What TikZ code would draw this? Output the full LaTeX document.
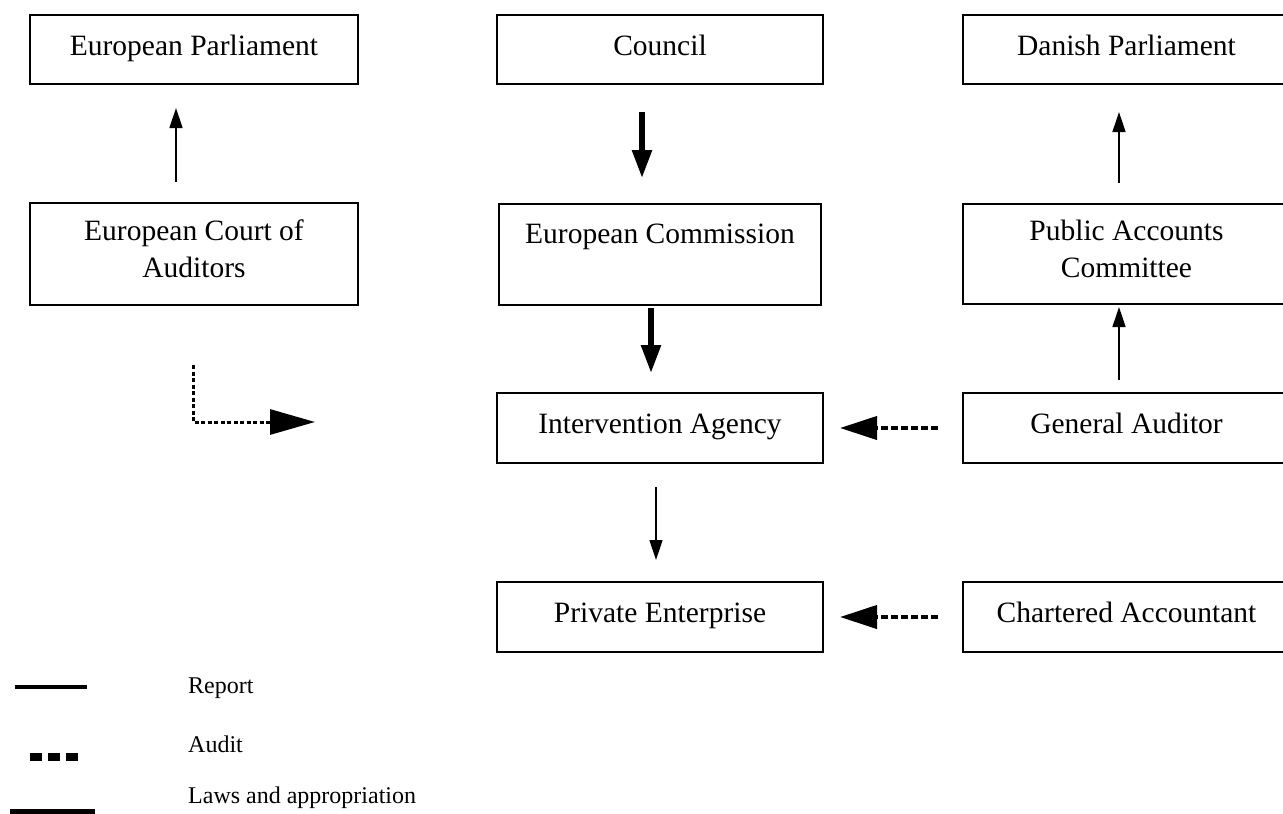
\documentclass[tikz,border=0pt]{standalone}
\usepackage{fontspec}
\setmainfont{Liberation Serif}
\usetikzlibrary{arrows.meta}
\begin{document}
\begin{tikzpicture}[x=1pt,y=-1pt,
  box/.style={draw, line width=2pt, rectangle, inner sep=0pt, outer sep=0pt,
    font=\fontsize{29.5}{37}\selectfont, align=center},
  oneline/.style={text height=21pt, text depth=10pt},
  twoline/.style={text height=57pt, text depth=11pt},
  thinarr/.style={line width=1.4pt, -{Triangle[length=20pt,width=13pt]}},
  thickarr/.style={line width=5.5pt, -{Triangle[length=28pt,width=19pt]}},
  auditarr/.style={line width=4pt, dash pattern=on 7pt off 3pt, -{Triangle[length=37pt,width=23pt]}},
  ldasharr/.style={line width=3pt, dash pattern=on 4pt off 2.5pt, -{Triangle[length=45pt,width=25pt]}},
  legtext/.style={font=\fontsize{24}{28}\selectfont, inner sep=0pt, anchor=base west}
]
\useasboundingbox (0,0) rectangle (1283,814);

% boxes
\node[box, oneline, minimum width=328pt, minimum height=69pt] (ep) at (194,49.5) {European Parliament};
\node[box, twoline, minimum width=328pt, minimum height=102pt] (eca) at (194,254) {European Court of\\Auditors};
\node[box, oneline, minimum width=326pt, minimum height=69pt] (council) at (660,49.5) {Council};
\node[box, text height=21pt, text depth=44pt, minimum width=322pt, minimum height=101pt] (comm) at (660,254.5) {European Commission};
\node[box, oneline, minimum width=326pt, minimum height=70pt] (interv) at (660,428) {Intervention Agency};
\node[box, oneline, minimum width=326pt, minimum height=70pt] (priv) at (660,617) {Private Enterprise};
\node[box, oneline, minimum width=327pt, minimum height=69pt] (dp) at (1126.5,49.5) {Danish Parliament};
\node[box, twoline, minimum width=327pt, minimum height=100pt] (pac) at (1126.5,254) {Public Accounts\\Committee};
\node[box, oneline, minimum width=327pt, minimum height=70pt] (ga) at (1126.5,428) {General Auditor};
\node[box, oneline, minimum width=327pt, minimum height=70pt] (ca) at (1126.5,617) {Chartered Accountant};

% connectors
\draw[thinarr] ([xshift=-18pt,yshift=21pt]eca.north) -- ([xshift=-18pt,yshift=-24pt]ep.south);
\draw[thickarr] ([xshift=-18pt,yshift=-28pt]council.south) -- ([xshift=-18pt,yshift=26pt]comm.north);
\draw[thickarr] ([xshift=-9pt,yshift=-3pt]comm.south) -- ([xshift=-9pt,yshift=20pt]interv.north);
\draw[thinarr] ([xshift=-4pt,yshift=-24pt]interv.south) -- ([xshift=-4pt,yshift=22pt]priv.north);
\draw[thinarr] ([xshift=-7.5pt,yshift=21pt]pac.north) -- ([xshift=-7.5pt,yshift=-28pt]dp.south);
\draw[thinarr] ([xshift=-7.5pt,yshift=13pt]ga.north) -- ([xshift=-7.5pt,yshift=-3pt]pac.south);
\draw[auditarr] ([xshift=-25pt]ga.west) -- ([xshift=17pt]interv.east);
\draw[auditarr] ([xshift=-25pt]ca.west) -- ([xshift=17pt]priv.east);

\coordinate (ls) at (193,365);
\coordinate (lc) at (193,422);
\coordinate (le) at (315,422);
\draw[ldasharr] (ls) -- (lc) -- (le);

% legend
\draw[line width=3.5pt] (15,687) -- (87,687);
\draw[line width=8pt, dash pattern=on 12pt off 6pt] (30,757) -- (78,757);
\draw[line width=7pt] (10,812) -- (95,812);
\node[legtext] (lrep) at (188,693) {Report};
\node[legtext] (laud) at (188,752) {Audit};
\node[legtext] (llaw) at (188,803) {Laws and appropriation};
\end{tikzpicture}
\end{document}
